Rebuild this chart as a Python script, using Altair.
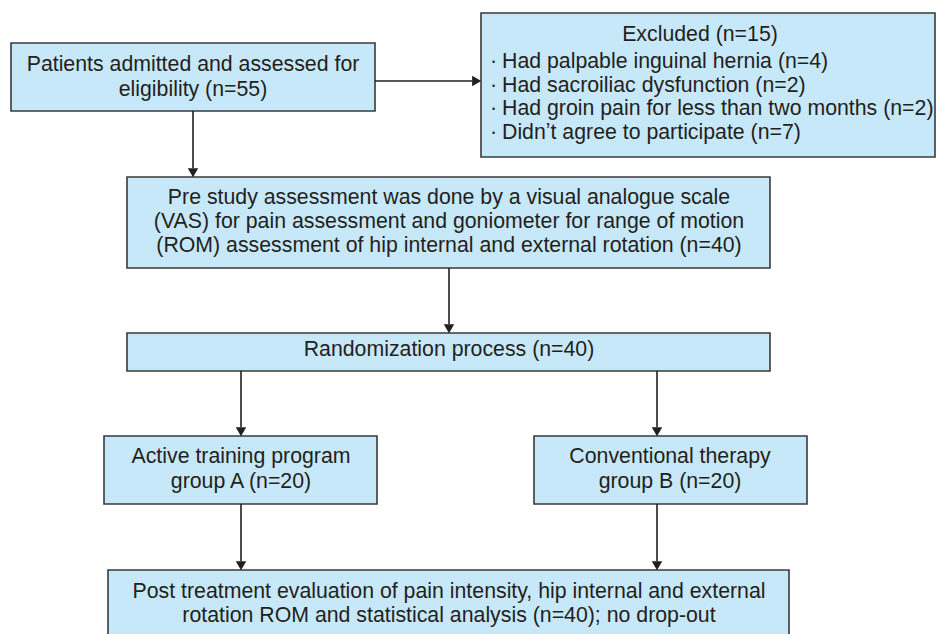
import altair as alt
import pandas as pd

# ---- text content ----
box_names = ["screen", "excluded", "pre", "random", "groupA", "groupB", "post"]
box_x1 = [11, 481, 127, 127, 104, 534, 108]
box_x2 = [375, 935, 770, 770, 377, 807, 789]
box_y1 = [43, 13, 177, 333, 436, 436, 570]
box_y2 = [111, 157, 268, 371, 504, 504, 660]

center_lines = [
    "Patients admitted and assessed for", "eligibility (n=55)",
    "Excluded (n=15)",
    "Pre study assessment was done by a visual analogue scale",
    "(VAS) for pain assessment and goniometer for range of motion",
    "(ROM) assessment of hip internal and external rotation (n=40)",
    "Randomization process (n=40)",
    "Active training program", "group A (n=20)",
    "Conventional therapy", "group B (n=20)",
    "Post treatment evaluation of pain intensity, hip internal and external",
    "rotation ROM and statistical analysis (n=40); no drop-out",
]
center_x = [193, 193, 700, 449, 449, 449, 449, 241, 241, 670, 670, 449, 449]
center_y = [71, 96, 41, 204, 228, 252, 356, 463, 488, 463, 488, 598, 622]

bullet_lines = [
    "Had palpable inguinal hernia (n=4)",
    "Had sacroiliac dysfunction (n=2)",
    "Had groin pain for less than two months (n=2)",
    "Didn\u02bct agree to participate (n=7)",
]
bullet_y = [68, 92, 115, 139]
bullet_dot_x = 490
bullet_text_x = 502

# arrows: start and tip
arr_x1 = [193, 375, 449, 241, 657, 241, 657]
arr_y1 = [111, 81, 268, 371, 371, 504, 504]
arr_x2 = [193, 481, 449, 241, 657, 241, 657]
arr_y2 = [177, 81, 333, 436, 436, 570, 570]

FILL = "#c7e8f8"
EDGE = "#3a3a3a"
INK = "#231f20"
FONT = "Liberation Sans"
FS = 21.3

W, H = 928, 626
xs = alt.Scale(domain=[8, 936], nice=False, zero=False)
ys = alt.Scale(domain=[8, 634], nice=False, zero=False, reverse=True)

boxes = pd.DataFrame({"name": box_names, "x1": box_x1, "x2": box_x2,
                      "y1": box_y1, "y2": box_y2})
texts = pd.DataFrame({"t": center_lines, "x": center_x, "y": center_y})
bullets = pd.DataFrame({"t": bullet_lines, "y": bullet_y,
                        "dx": [bullet_dot_x] * 4, "tx": [bullet_text_x] * 4,
                        "dot": ["\u00b7"] * 4})
arrows = pd.DataFrame({"x1": arr_x1, "y1": arr_y1, "x2": arr_x2, "y2": arr_y2})

# arrow head centres (triangle half-extent 4.33 behind the tip)
half = 4.33
heads = arrows.copy()
heads["dir"] = ["down" if a == b else "right" for a, b in zip(arr_x1, arr_x2)]
heads["hx"] = [x2 - half if d == "right" else x2 for x2, d in zip(heads.x2, heads.dir)]
heads["hy"] = [y2 - half if d == "down" else y2 for y2, d in zip(heads.y2, heads.dir)]
heads["hx_line"] = [x2 - 2 * half if d == "right" else x2 for x2, d in zip(heads.x2, heads.dir)]
heads["hy_line"] = [y2 - 2 * half if d == "down" else y2 for y2, d in zip(heads.y2, heads.dir)]

rects = alt.Chart(boxes).mark_rect(fill=FILL, stroke=EDGE, strokeWidth=1.6).encode(
    x=alt.X("x1:Q", scale=xs, axis=None), x2="x2:Q",
    y=alt.Y("y1:Q", scale=ys, axis=None), y2="y2:Q")

lines = alt.Chart(heads).mark_rule(color=INK, strokeWidth=1.6).encode(
    x=alt.X("x1:Q", scale=xs, axis=None), x2="hx_line:Q",
    y=alt.Y("y1:Q", scale=ys, axis=None), y2="hy_line:Q")

down_heads = alt.Chart(heads[heads.dir == "down"]).mark_point(
    shape="triangle-down", size=110, filled=True, color=INK, opacity=1).encode(
    x=alt.X("hx:Q", scale=xs, axis=None), y=alt.Y("hy:Q", scale=ys, axis=None))
right_heads = alt.Chart(heads[heads.dir == "right"]).mark_point(
    shape="triangle-right", size=110, filled=True, color=INK, opacity=1).encode(
    x=alt.X("hx:Q", scale=xs, axis=None), y=alt.Y("hy:Q", scale=ys, axis=None))

ctext = alt.Chart(texts).mark_text(font=FONT, fontSize=FS, color=INK,
                                   align="center", baseline="alphabetic").encode(
    x=alt.X("x:Q", scale=xs, axis=None), y=alt.Y("y:Q", scale=ys, axis=None), text="t:N")

dots = alt.Chart(bullets).mark_text(font=FONT, fontSize=FS, color=INK,
                                    align="left", baseline="alphabetic").encode(
    x=alt.X("dx:Q", scale=xs, axis=None), y=alt.Y("y:Q", scale=ys, axis=None), text="dot:N")
btext = alt.Chart(bullets).mark_text(font=FONT, fontSize=FS, color=INK,
                                     align="left", baseline="alphabetic").encode(
    x=alt.X("tx:Q", scale=xs, axis=None), y=alt.Y("y:Q", scale=ys, axis=None), text="t:N")

chart = alt.layer(rects, lines, down_heads, right_heads, ctext, dots, btext).properties(
    width=W, height=H, padding=0, autosize=alt.AutoSizeParams(type="none"),
    background="white"
).configure_view(stroke=None, clip=True)

chart.save("out.html", embed_options={"renderer": "svg", "actions": False})
